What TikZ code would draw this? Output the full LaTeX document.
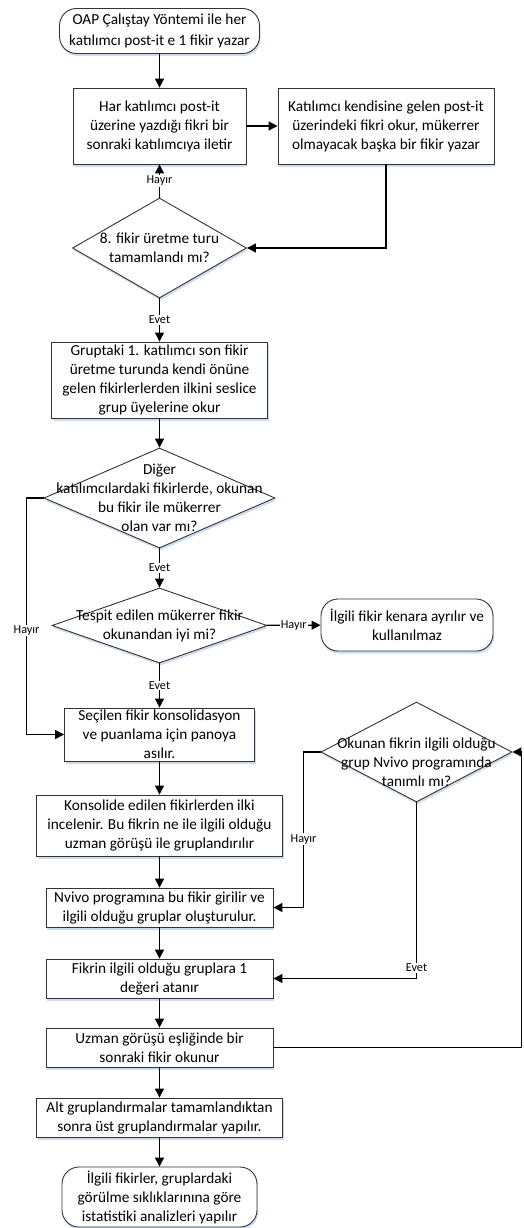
\documentclass[tikz,border=0pt]{standalone}
\usepackage{fontspec}
\setmainfont{Carlito}
\usetikzlibrary{arrows.meta,shapes.geometric,shadows}
\definecolor{shade}{RGB}{205,220,240}
\newcommand{\boxfont}{\fontsize{15.3pt}{19pt}\selectfont}
\newcommand{\tagfont}{\fontsize{12.2pt}{14pt}\selectfont}
\tikzset{
    base/.style={draw=black!80, line width=0.9pt, fill=white, font=\boxfont,
        align=center, inner sep=0pt, text=black,
        drop shadow={shadow xshift=1pt, shadow yshift=-2.5pt, fill=shade, opacity=1}},
    proc/.style={base, rectangle},
    term/.style={base, rounded corners=17pt},
    dec/.style={base, diamond},
    txt/.style={font=\boxfont, align=center, text=black},
    flow/.style={-{Triangle[length=9pt,width=9pt]}, line width=1.2pt},
    lbl/.style={fill=white, font=\tagfont, inner sep=1pt}
}
\begin{document}
\begin{tikzpicture}[x=1pt, y=-1pt]
    \useasboundingbox (0,0) rectangle (523,1228);
    % main column
    \node[term, minimum width=200pt, minimum height=45pt] (start) at (159.5,31)
        {OAP Çalıştay Yöntemi ile her\\[2pt]katılımcı post-it e 1 fikir yazar};
    \node[proc, minimum width=173pt, minimum height=76pt] (b1) at (159.5,126)
        {Har katılımcı post-it\\üzerine yazdığı fikri bir\\sonraki katılımcıya iletir};
    \node[proc, minimum width=216pt, minimum height=76pt] (b2) at (386,126)
        {Katılımcı kendisine gelen post-it\\üzerindeki fikri okur, mükerrer\\olmayacak başka bir fikir yazar};
    \node[dec, minimum width=174pt, minimum height=100pt,
        label={[txt]center:8. fikir üretme turu\\tamamlandı mı?}] (d1) at (159.5,248) {};
    \node[proc, minimum width=216pt, minimum height=76pt] (b3) at (159.5,380)
        {Gruptaki 1. katılımcı son fikir\\üretme turunda kendi önüne\\gelen fikirlerlerden ilkini seslice\\grup üyelerine okur};
    \node[dec, minimum width=231pt, minimum height=100pt,
        label={[txt]center:Diğer\\katılımcılardaki fikirlerde, okunan\\bu fikir ile mükerrer\\olan var mı?}] (d2) at (159.5,498) {};
    \node[dec, minimum width=215pt, minimum height=75pt,
        label={[txt]center:Tespit edilen mükerrer fikir\\okunandan iyi mi?}] (d3) at (159.5,625.5) {};
    \node[term, minimum width=172pt, minimum height=52pt] (t2) at (407,625)
        {İlgili fikir kenara ayrılır ve\\kullanılmaz};
    \node[proc, minimum width=190pt, minimum height=53pt,
        label={[txt]center:Seçilen fikir konsolidasyon\\ve puanlama için panoya\\asılır.}] (b4) at (159.5,734.5) {};
    \node[proc, minimum width=246pt, minimum height=61pt] (b5) at (159.5,825.5)
        {Konsolide edilen fikirlerden ilki\\incelenir. Bu fikrin ne ile ilgili olduğu\\uzman görüşü ile gruplandırılır};
    \node[dec, minimum width=191pt, minimum height=100pt,
        label={[txt, yshift=-10pt]center:Okunan fikrin ilgili olduğu\\grup Nvivo programında\\tanımlı mı?}] (d4) at (416.5,752) {};
    \node[proc, minimum width=227pt, minimum height=39pt] (b6) at (159.5,907.5)
        {Nvivo programına bu fikir girilir ve\\ilgili olduğu gruplar oluşturulur.};
    \node[proc, minimum width=227pt, minimum height=39pt] (b7) at (159.5,978.5)
        {Fikrin ilgili olduğu gruplara 1\\değeri atanır};
    \node[proc, minimum width=227pt, minimum height=39pt] (b8) at (159.5,1047.5)
        {Uzman görüşü eşliğinde bir\\sonraki fikir okunur};
    \node[proc, minimum width=246pt, minimum height=39pt] (b9) at (159.5,1117.5)
        {Alt gruplandırmalar tamamlandıktan\\sonra üst gruplandırmalar yapılır.};
    \node[term, minimum width=195pt, minimum height=60pt] (t3) at (159.5,1197)
        {İlgili fikirler, gruplardaki\\görülme sıklıklarınına göre\\istatistiki analizleri yapılır};

    % connectors
    \draw[flow] (start) -- (b1);
    \draw[flow] (b1) -- (b2);
    \draw[flow] (b2) |- (d1);
    \draw[flow] (d1) -- node[lbl]{Hayır} (b1);
    \draw[flow] (d1) -- node[lbl]{Evet} (b3);
    \draw[flow] (b3) -- (d2);
    \draw[flow] (d2) -- node[lbl]{Evet} (d3);
    \draw[flow] (d2.west) -- ++(-17,0) |- node[lbl, pos=0.28]{Hayır} (b4);
    \draw[flow] (d3) -- node[lbl]{Hayır} (t2);
    \draw[flow] (d3) -- node[lbl]{Evet} (b4);
    \draw[flow] (b4) -- (b5);
    \draw[flow] (b5) -- (b6);
    \draw[flow] (d4.west) -- ++(-17,0) |- node[lbl, pos=0.28]{Hayır} (b6);
    \draw[flow] (b6) -- (b7);
    \draw[flow] (d4.south) |- node[lbl, pos=0.47]{Evet} (b7);
    \draw[flow] (b7) -- (b8);
    \draw[flow] (b8.east) -- ++(248,0) |- (d4.east);
    \draw[flow] (b8) -- (b9);
    \draw[flow] (b9) -- (t3);
\end{tikzpicture}
\end{document}
